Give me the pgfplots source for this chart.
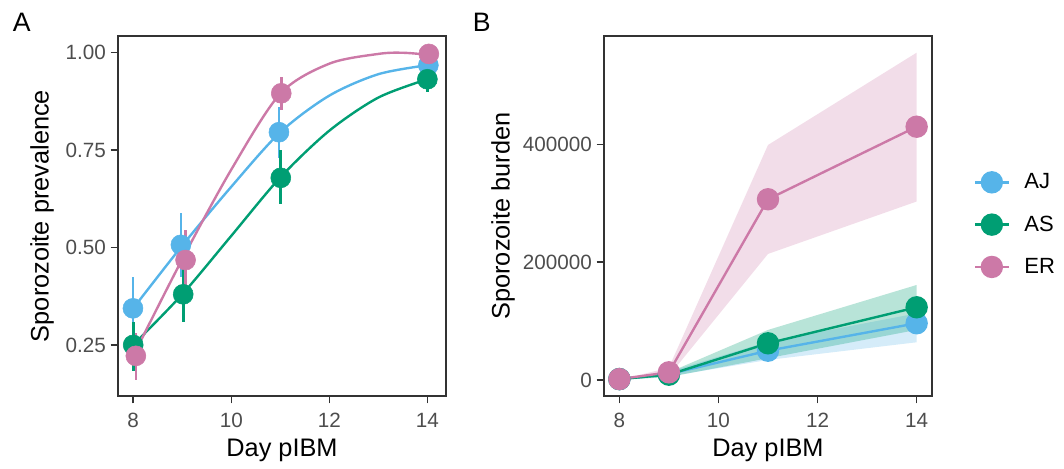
\documentclass[border=0pt]{standalone}
\usepackage{pgfplots}
\pgfplotsset{compat=1.18}
\usepackage{fontspec}
\setmainfont{Liberation Sans}
\definecolor{cAJ}{HTML}{56B4E9}
\definecolor{cAS}{HTML}{009E73}
\definecolor{cER}{HTML}{CC79A7}
\definecolor{axc}{HTML}{333333}
\definecolor{tkc}{HTML}{4D4D4D}

\pgfplotsset{
 gg/.style={
  scale only axis, width=246pt, height=270pt,
  axis line style={axc, line width=1.1pt},
  tick style={axc, line width=1.1pt},
  tick align=outside, major tick length=5.5pt,
  tick pos=left,
  ticklabel style={font=\fontsize{15.5}{18}\selectfont, text=tkc},
  xticklabel style={yshift=-4pt},
  label style={font=\fontsize{19}{22}\selectfont},
  xlabel style={at={(axis description cs:0.5,-0.15)}, anchor=center},
  /pgf/number format/assume math mode=true,
 },
}

% Panel A: prevalence with error bars (x, y, +err, -err)
\pgfplotstableread{
x y ep em
7.995 0.344 0.081 0.084
8.973 0.507 0.081 0.082
10.973 0.796 0.064 0.067
14.02 0.968 0.018 0.021
}\AJa
\pgfplotstableread{
x y ep em
8.0 0.250 0.060 0.066
9.02 0.380 0.075 0.072
11.01 0.679 0.071 0.067
14.0 0.932 0.028 0.032
}\ASa
\pgfplotstableread{
x y ep em
8.054 0.222 0.058 0.062
9.068 0.468 0.077 0.078
11.02 0.896 0.041 0.043
14.03 0.997 0.003 0.005
}\ERa

\begin{document}
\begin{tikzpicture}
\path[use as bounding box] (0pt,0pt) rectangle (798pt,351pt);

\node[anchor=base west, inner sep=0pt, font=\fontsize{20}{24}\selectfont] at (9.5pt,327.2pt) {A};
\node[anchor=base west, inner sep=0pt, font=\fontsize{20}{24}\selectfont] at (354.5pt,327.2pt) {B};

% ---------------- Panel A
\begin{axis}[gg, at={(88.5pt,54pt)}, anchor=south west,
  xmin=7.69, xmax=14.38, ymin=0.119, ymax=1.043,
  xtick={8,10,12,14},
  ytick={0.25,0.5,0.75,1.0},
  yticklabels={0.25,0.50,0.75,1.00},
  xlabel={Day pIBM}, ylabel={Sporozoite prevalence},
  ylabel style={at={(axis description cs:-0.2317,0.5)}, anchor=center},
]
% fitted curves
\addplot[cAJ, line width=1.8pt, smooth] coordinates {(8,0.344) (9,0.505) (10,0.656) (11,0.796) (12,0.89) (13,0.945) (14,0.968)};
\addplot[cAS, line width=1.8pt, smooth] coordinates {(8,0.25) (9,0.38) (10,0.53) (11,0.68) (12,0.80) (13,0.885) (14,0.932)};
\addplot[cER, line width=1.8pt, smooth] coordinates {(8,0.222) (9,0.47) (10,0.70) (11,0.895) (12,0.972) (13,0.997) (13.5,1.0) (14,0.995)};
% points with error bars
\addplot[cAJ, only marks, mark=*, mark size=7.5pt, mark options={draw=none, fill=cAJ},
  error bars/.cd, y dir=both, y explicit, error mark=none, error bar style={line width=2pt, cAJ}]
  table[x=x, y=y, y error plus=ep, y error minus=em] {\AJa};
\addplot[cAS, only marks, mark=*, mark size=7.5pt, mark options={draw=none, fill=cAS},
  error bars/.cd, y dir=both, y explicit, error mark=none, error bar style={line width=2pt, cAS}]
  table[x=x, y=y, y error plus=ep, y error minus=em] {\ASa};
\addplot[cER, only marks, mark=*, mark size=7.5pt, mark options={draw=none, fill=cER},
  error bars/.cd, y dir=both, y explicit, error mark=none, error bar style={line width=2pt, cER}]
  table[x=x, y=y, y error plus=ep, y error minus=em] {\ERa};
\end{axis}

% ---------------- Panel B
\begin{axis}[gg, at={(453pt,54pt)}, anchor=south west,
  xmin=7.69, xmax=14.31, ymin=-27200, ymax=584000,
  xtick={8,10,12,14},
  ytick={0,200000,400000},
  yticklabels={0,200000,400000},
  scaled y ticks=false,
  xlabel={Day pIBM}, ylabel={Sporozoite burden},
  ylabel style={at={(axis description cs:-0.308,0.5)}, anchor=center},
  legend style={at={(axis description cs:1.115,0.476)}, anchor=west, draw=none, fill=none,
    font=\fontsize{16.5}{20}\selectfont, row sep=14.8pt,
    /tikz/every odd column/.append style={column sep=9pt}},
  legend cell align=left,
  legend image code/.code={\draw[mark repeat=2,mark phase=2,#1] plot coordinates {(0pt,0pt) (12.5pt,0pt) (25pt,0pt)};},
]
% ribbons
\addplot[forget plot, draw=none, fill=cAJ, fill opacity=0.25] coordinates {(8,0) (9,14000) (11,65000) (14,113000) (14,64000) (11,34000) (9,6000) (8,0)};
\addplot[forget plot, draw=none, fill=cAS, fill opacity=0.28] coordinates {(8,0) (9,13000) (11,85000) (14,161300) (14,85000) (11,37000) (9,5000) (8,0)};
\addplot[forget plot, draw=none, fill=cER, fill opacity=0.25] coordinates {(8,0) (9,21000) (11,399000) (14,555700) (14,303000) (11,214000) (9,7000) (8,0)};
% lines with points
\addplot[cAJ, line width=1.8pt, mark=*, mark size=7.5pt, mark options={draw=none, fill=cAJ}] coordinates {(8,1500) (9,10000) (11,49700) (14,96300)};
\addlegendentry{AJ}
\addplot[cAS, line width=1.8pt, mark=*, mark size=7.5pt, mark options={draw=none, fill=cAS}] coordinates {(8,1500) (9,9000) (11,62300) (14,123400)};
\addlegendentry{AS}
\addplot[cER, line width=1.8pt, mark=*, mark size=7.5pt, mark options={draw=none, fill=cER}] coordinates {(8,1500) (9,13000) (11,306800) (14,430000)};
\addlegendentry{ER}
\end{axis}
\end{tikzpicture}
\end{document}
